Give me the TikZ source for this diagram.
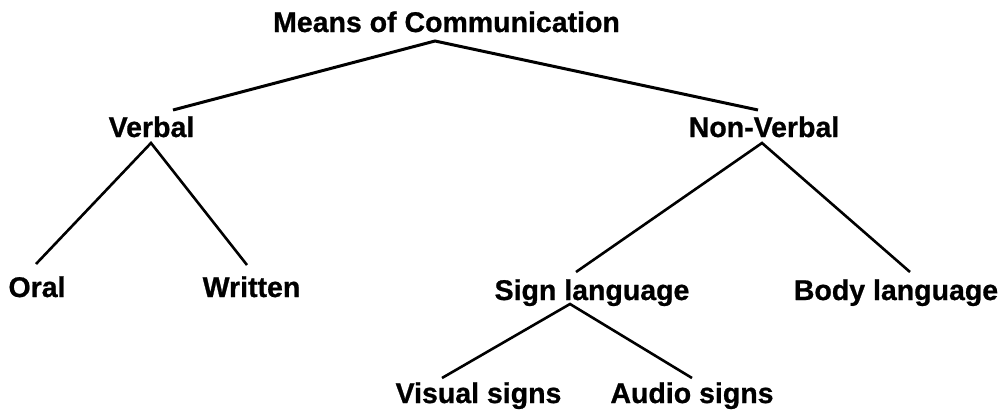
\documentclass[tikz,border=0pt]{standalone}
\usepackage{fontspec}
\setmainfont{Liberation Sans}[BoldFeatures={FakeBold=0.8}]
\begin{document}
\begin{tikzpicture}[x=1pt,y=-1pt,
  lbl/.style={anchor=base,inner sep=0pt,font=\fontsize{28.5}{32}\selectfont\bfseries},
  edge/.style={line width=2.6pt,black},
  topedge/.style={line width=3pt,black}]
\useasboundingbox[fill=white] (0,0) rectangle (1004,410);
% labels (positions are baseline centres)
\node[lbl] (means)  at (446.5,32)  {Means of Communication};
\node[lbl] (verbal) at (151.5,137) {Verbal};
\node[lbl] (nonv)   at (764,137)   {Non-Verbal};
\node[lbl] (oral)   at (37,297)    {Oral};
\node[lbl] (writ)   at (251.5,297) {Written};
\node[lbl] (sign)   at (592,300)   {Sign language};
\node[lbl] (body)   at (896,300)   {Body language};
\node[lbl] (vis)    at (478.5,403) {Visual signs};
\node[lbl] (aud)    at (692,403)   {Audio signs};
% connectors
\draw[topedge] ([xshift=21.5pt,yshift=27pt]verbal.base) -- ([xshift=-11.5pt,yshift=-9pt]means.base) -- ([xshift=-6pt,yshift=27pt]nonv.base);
\draw[edge] ([xshift=-1pt,yshift=33pt]oral.base) -- ([xshift=-0.5pt,yshift=-6pt]verbal.base) -- ([xshift=-4.5pt,yshift=32pt]writ.base);
\draw[edge] ([xshift=-16pt,yshift=28pt]sign.base) -- ([xshift=-2pt,yshift=-6pt]nonv.base) -- ([xshift=14pt,yshift=28pt]body.base);
\draw[edge] ([xshift=-36.5pt,yshift=25pt]vis.base) -- ([xshift=-22pt,yshift=-4pt]sign.base) -- ([xshift=0pt,yshift=25pt]aud.base);
\end{tikzpicture}
\end{document}
